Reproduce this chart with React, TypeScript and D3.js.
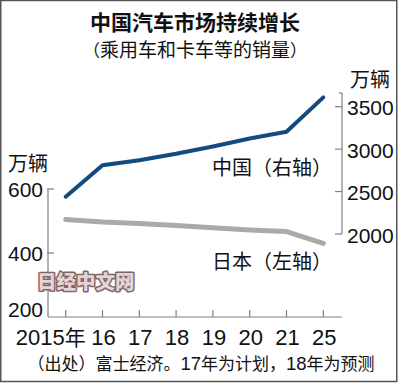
import React from "react";
import * as d3 from "d3";

const years = ["2015", "16", "17", "18", "19", "20", "21", "25"];
const chinaSales = [2440, 2810, 2870, 2945, 3030, 3125, 3205, 3610];
const japanSales = [505, 497, 492, 486, 479, 472, 467, 430];
const leftTicks = [600, 400, 200];
const rightTicks = [3500, 3000, 2500, 2000];

const title = "中国汽车市场持续增长";
const subtitleBody = "乘用车和卡车等的销量";
const unit = "万辆";
const chinaLabel = "中国（右轴）";
const japanLabel = "日本（左轴）";
const watermark = "日经中文网";

const FONT = "'Liberation Sans', Arial, 'Noto Sans CJK SC', sans-serif";
const CJK = "'Noto Sans CJK SC', 'Liberation Sans', sans-serif";

export default function App() {
  const x = d3.scalePoint<string>().domain(years).range([65.7, 323.3]);
  const yL = d3.scaleLinear().domain([200, 600]).range([317, 189]);
  const yR = d3.scaleLinear().domain([2000, 3500]).range([234, 106.7]);

  const chinaLine = d3
    .line<number>()
    .x((_, i) => x(years[i]) as number)
    .y((d) => yR(d));
  const japanLine = d3
    .line<number>()
    .x((_, i) => x(years[i]) as number)
    .y((d) => yL(d));

  const axisColor = "#808080";
  const leftX = 48;
  const rightX = 342;
  const baseY = yL(200);

  return (
    <svg
      width={400}
      height={384}
      style={{ position: "absolute", left: 0, top: 0, background: "#fff" }}
    >
      <rect x={0.75} y={0.5} width={396} height={381} fill="#fff" stroke="#555" strokeWidth={1.5} />

      <text x={195} y={30} textAnchor="middle" fontFamily={CJK} fontWeight="bold" fontSize={21} fill="#111">
        {title}
      </text>
      <text x={195} y={57} textAnchor="middle" fontFamily={CJK} fontSize={19} fill="#111">
        <tspan fontSize={17}>（</tspan>
        {subtitleBody}
        <tspan fontSize={17}>）</tspan>
      </text>

      {/* units */}
      <text x={8} y={170.5} fontFamily={CJK} fontSize={20} fill="#111">{unit}</text>
      <text x={350} y={86.5} fontFamily={CJK} fontSize={20} fill="#111">{unit}</text>

      {/* left axis */}
      <line x1={leftX} x2={leftX} y1={yL(600)} y2={baseY} stroke={axisColor} strokeWidth={1.2} />
      {leftTicks.map((t) => (
        <g key={"l" + t}>
          {t !== 200 && (
            <line x1={leftX - 1} x2={leftX + 6} y1={yL(t)} y2={yL(t)} stroke={axisColor} strokeWidth={1.2} />
          )}
          <text
            x={43}
            y={t === 200 ? yL(t) : yL(t) + 8}
            textAnchor="end"
            fontFamily={FONT}
            fontSize={21}
            fill="#111"
          >
            {t}
          </text>
        </g>
      ))}

      {/* right axis */}
      <line x1={rightX} x2={rightX} y1={93} y2={yR(2000)} stroke={axisColor} strokeWidth={1.2} />
      <line x1={rightX - 3} x2={rightX} y1={93} y2={93} stroke={axisColor} strokeWidth={1.2} />
      {rightTicks.map((t) => (
        <g key={"r" + t}>
          <line x1={rightX - 7} x2={rightX} y1={yR(t)} y2={yR(t)} stroke={axisColor} strokeWidth={1.2} />
          <text x={347} y={yR(t) + 8.5} fontFamily={FONT} fontSize={21} fill="#111">
            {t}
          </text>
        </g>
      ))}

      {/* x axis */}
      <line x1={leftX} x2={rightX} y1={baseY} y2={baseY} stroke={axisColor} strokeWidth={1.2} />
      {years.map((yr) => (
        <g key={"x" + yr}>
          <line x1={x(yr)} x2={x(yr)} y1={baseY} y2={baseY - 7} stroke={axisColor} strokeWidth={1.2} />
          <text
            x={yr === "2015" ? (x(yr) as number) - 15 : (x(yr) as number) + 1}
            y={345}
            textAnchor="middle"
            fontFamily={FONT}
            fontSize={22}
            fill="#111"
          >
            {yr === "2015" ? (
              <>
                {yr}
                <tspan fontFamily={CJK} fontSize={21}>年</tspan>
              </>
            ) : (
              yr
            )}
          </text>
        </g>
      ))}

      {/* lines */}
      <path d={japanLine(japanSales) || ""} fill="none" stroke="#aaaaaa" strokeWidth={5} strokeLinecap="round" strokeLinejoin="round" />
      <path d={chinaLine(chinaSales) || ""} fill="none" stroke="#134b7d" strokeWidth={4} strokeLinecap="round" strokeLinejoin="round" />

      <text x={212} y={175} fontFamily={CJK} fontSize={20} fill="#111">{chinaLabel}</text>
      <text x={212} y={269} fontFamily={CJK} fontSize={20} fill="#111">{japanLabel}</text>

      {/* watermark */}
      <text
        x={37}
        y={289}
        fontFamily={CJK}
        fontWeight="900"
        fontSize={19.5}
        fill="#e6d3d3"
        stroke="#7f6666"
        strokeWidth={3}
        strokeLinejoin="round"
        style={{ paintOrder: "stroke" }}
      >
        {watermark}
      </text>

      <text x={201} y={370} textAnchor="middle" fontFamily={CJK} fontSize={17} fill="#111">
        <tspan>（出处）富士经济。</tspan>
        <tspan fontFamily={FONT} fontSize={18.5}>17</tspan>
        <tspan>年为计划，</tspan>
        <tspan fontFamily={FONT} fontSize={18.5}>18</tspan>
        <tspan>年为预测</tspan>
      </text>
    </svg>
  );
}
